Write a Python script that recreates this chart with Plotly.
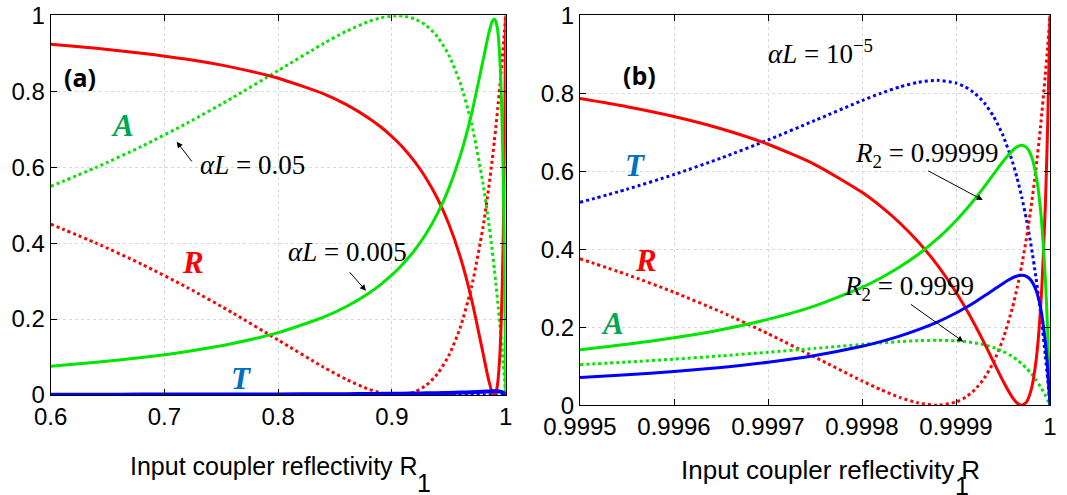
import plotly.graph_objects as go

# ---------------- data ----------------
# Panel (a): R2 ~ 0.9999, solid alphaL = 0.005, dotted alphaL = 0.05
xa = [0.60, 0.64, 0.68, 0.72, 0.76, 0.80, 0.84, 0.86, 0.88, 0.89, 0.90, 0.905, 0.91,
      0.92, 0.93, 0.94, 0.95, 0.96, 0.97, 0.98, 0.985, 0.988, 0.99, 0.9915, 0.993,
      0.995, 0.997, 0.998, 0.999, 0.9995, 1.0]
a_R_solid = [0.9236, 0.9131, 0.9002, 0.8840, 0.8629, 0.8342, 0.7929, 0.7646, 0.7285, 0.7064,
             0.6807, 0.6662, 0.6505, 0.6145, 0.5710, 0.5175, 0.4502, 0.3640, 0.2520, 0.1112,
             0.0395, 0.0079, 0.0000, 0.0070, 0.0323, 0.1133, 0.2932, 0.4475, 0.6721, 0.8201, 1.0]
a_A_solid = [0.0757, 0.0860, 0.0988, 0.1148, 0.1358, 0.1642, 0.2051, 0.2330, 0.2688, 0.2907,
             0.3162, 0.3305, 0.3461, 0.3817, 0.4247, 0.4778, 0.5443, 0.6297, 0.7406, 0.8800,
             0.9510, 0.9823, 0.9901, 0.9831, 0.9582, 0.8779, 0.6998, 0.5470, 0.3246, 0.1781, 0.0]
a_T_solid = [0.0008, 0.0009, 0.0010, 0.0012, 0.0014, 0.0016, 0.0021, 0.0023, 0.0027, 0.0029,
             0.0032, 0.0033, 0.0035, 0.0038, 0.0043, 0.0048, 0.0054, 0.0063, 0.0074, 0.0088,
             0.0095, 0.0098, 0.0099, 0.0098, 0.0096, 0.0088, 0.0070, 0.0055, 0.0033, 0.0018, 0.0]
a_R_dot = [0.4501, 0.3999, 0.3445, 0.2832, 0.2162, 0.1446, 0.0731, 0.0408, 0.0148, 0.0058,
           0.0007, 0.0000, 0.0009, 0.0083, 0.0254, 0.0557, 0.1039, 0.1769, 0.2845, 0.4410,
           0.5441, 0.6158, 0.6683, 0.7103, 0.7549, 0.8183, 0.8868, 0.9231, 0.9608, 0.9802, 1.0]
a_A_dot = [0.5494, 0.5995, 0.6549, 0.7161, 0.7831, 0.8545, 0.9260, 0.9582, 0.9842, 0.9933,
           0.9983, 0.9990, 0.9981, 0.9907, 0.9736, 0.9434, 0.8952, 0.8223, 0.7148, 0.5584,
           0.4554, 0.3838, 0.3314, 0.2894, 0.2449, 0.1815, 0.1131, 0.0768, 0.0392, 0.0198, 0.0]
a_T_dot = [0.0006, 0.0006, 0.0007, 0.0007, 0.0008, 0.0009, 0.0009, 0.0010, 0.0010, 0.0010,
           0.0010, 0.0010, 0.0010, 0.0010, 0.0010, 0.0009, 0.0009, 0.0008, 0.0007, 0.0006,
           0.0005, 0.0004, 0.0003, 0.0003, 0.0002, 0.0002, 0.0001, 0.0001, 0.0000, 0.0000, 0.0]

# Panel (b): alphaL = 1e-5, solid R2 = 0.99999, dotted R2 = 0.9999
xb = [0.99950, 0.99955, 0.99960, 0.99965, 0.99970, 0.99975, 0.99980, 0.99982, 0.99984,
      0.99986, 0.99988, 0.99990, 0.99991, 0.99992, 0.99993, 0.99994, 0.99995, 0.99996,
      0.999965, 0.99997, 0.999975, 0.99998, 0.999985, 0.99999, 0.999995, 0.9999975, 1.0]
b_R_solid = [0.7864, 0.7656, 0.7404, 0.7091, 0.6694, 0.6173, 0.5463, 0.5102, 0.4681, 0.4187,
             0.3600, 0.2899, 0.2500, 0.2066, 0.1600, 0.1111, 0.0625, 0.0204, 0.0059, 0.0000,
             0.0083, 0.0400, 0.1111, 0.2500, 0.5102, 0.7160, 1.0]
b_T_solid = [0.0712, 0.0781, 0.0865, 0.0970, 0.1102, 0.1276, 0.1512, 0.1633, 0.1773, 0.1938,
             0.2133, 0.2367, 0.2500, 0.2645, 0.2800, 0.2963, 0.3125, 0.3265, 0.3314, 0.3333,
             0.3306, 0.3200, 0.2963, 0.2500, 0.1633, 0.0947, 0.0]
b_A_solid = [0.1424, 0.1563, 0.1731, 0.1939, 0.2204, 0.2551, 0.3025, 0.3265, 0.3546, 0.3875,
             0.4267, 0.4734, 0.5000, 0.5289, 0.5600, 0.5926, 0.6250, 0.6531, 0.6627, 0.6667,
             0.6612, 0.6400, 0.5926, 0.5000, 0.3265, 0.1893, 0.0]
b_R_dot = [0.3757, 0.3352, 0.2899, 0.2395, 0.1837, 0.1234, 0.0625, 0.0400, 0.0204, 0.0059,
           0.0000, 0.0083, 0.0204, 0.0400, 0.0693, 0.1111, 0.1696, 0.2500, 0.3007, 0.3600,
           0.4293, 0.5102, 0.6049, 0.7160, 0.8464, 0.9200, 1.0]
b_T_dot = [0.5203, 0.5540, 0.5917, 0.6338, 0.6803, 0.7305, 0.7813, 0.8000, 0.8163, 0.8284,
           0.8333, 0.8264, 0.8163, 0.8000, 0.7756, 0.7407, 0.6920, 0.6250, 0.5827, 0.5333,
           0.4756, 0.4082, 0.3292, 0.2367, 0.1280, 0.0666, 0.0]
b_A_dot = [0.1041, 0.1108, 0.1183, 0.1268, 0.1361, 0.1461, 0.1563, 0.1600, 0.1633, 0.1657,
           0.1667, 0.1653, 0.1633, 0.1600, 0.1551, 0.1481, 0.1384, 0.1250, 0.1165, 0.1067,
           0.0951, 0.0816, 0.0658, 0.0473, 0.0256, 0.0133, 0.0]

a_xticks = [0.6, 0.7, 0.8, 0.9, 1.0]
a_xticktext = ["0.6", "0.7", "0.8", "0.9", "1"]
b_xticks = [0.9995, 0.9996, 0.9997, 0.9998, 0.9999, 1.0]
b_xticktext = ["0.9995", "0.9996", "0.9997", "0.9998", "0.9999", "1"]
yticks = [0, 0.2, 0.4, 0.6, 0.8, 1.0]
yticktext = ["0", "0.2", "0.4", "0.6", "0.8", "1"]

# ---------------- styling ----------------
W, H = 1067, 495
RED, GREEN, BLUE = "#ff0000", "#00e600", "#0000ff"
SANS = "Liberation Sans, Arial, sans-serif"
TICKFONT = dict(family=SANS, size=24, color="black")
SERIF = "Liberation Serif, Times New Roman, serif"

fig = go.Figure()

def add(x, y, color, dash, xa_, ya_, width=3):
    fig.add_trace(go.Scatter(x=x, y=y, mode="lines", xaxis=xa_, yaxis=ya_,
                             line=dict(color=color, width=width, dash=dash,
                                       shape="spline", smoothing=0.6),
                             showlegend=False, hoverinfo="skip"))

# panel (a)
add(xa, a_T_dot, BLUE, "dot", "x", "y")
add(xa, a_R_dot, RED, "dot", "x", "y")
add(xa, a_A_dot, GREEN, "dot", "x", "y")
add(xa, a_R_solid, RED, "solid", "x", "y")
add(xa, a_A_solid, GREEN, "solid", "x", "y")
add(xa, a_T_solid, BLUE, "solid", "x", "y", width=4)
# panel (b)
add(xb, b_T_dot, BLUE, "dot", "x2", "y2")
add(xb, b_R_dot, RED, "dot", "x2", "y2")
add(xb, b_A_dot, GREEN, "dot", "x2", "y2")
add(xb, b_R_solid, RED, "solid", "x2", "y2")
add(xb, b_A_solid, GREEN, "solid", "x2", "y2")
add(xb, b_T_solid, BLUE, "solid", "x2", "y2")

def px(x, y):
    return x / W, 1 - y / H

axis_common = dict(showline=True, linecolor="black", linewidth=1, mirror="allticks",
                   ticks="inside", ticklen=6, tickcolor="black", tickwidth=1,
                   showgrid=True, gridcolor="#d9d9d9", griddash="dot", gridwidth=1,
                   zeroline=False, tickfont=TICKFONT, automargin=False)

fig.update_layout(
    width=W, height=H, margin=dict(l=0, r=0, t=0, b=0, autoexpand=False),
    paper_bgcolor="white", plot_bgcolor="white",
    xaxis=dict(domain=[50.7 / W, 505.7 / W], range=[0.6, 1.0], anchor="y",
               tickvals=a_xticks, ticktext=a_xticktext, **axis_common),
    yaxis=dict(domain=[1 - 395 / H, 1 - 15.3 / H], range=[0, 1], anchor="x",
               tickvals=yticks, ticktext=yticktext, **axis_common),
    xaxis2=dict(domain=[580 / W, 1050 / W], range=[0.9995, 1.0], anchor="y2",
                tickvals=b_xticks, ticktext=b_xticktext, **axis_common),
    yaxis2=dict(domain=[1 - 405.3 / H, 1 - 15.3 / H], range=[0, 1], anchor="x2",
                tickvals=yticks, ticktext=yticktext, **axis_common),
)

ann = []

def text(x, y, s, size, color="black", family=SERIF, xanchor="center"):
    X, Y = px(x, y)
    ann.append(dict(x=X, y=Y, xref="paper", yref="paper", text=s, showarrow=False,
                    xanchor=xanchor, yanchor="middle",
                    font=dict(size=size, color=color, family=family)))

def arrow(hx, hy, tx, ty):
    X, Y = px(hx, hy)
    ann.append(dict(x=X, y=Y, xref="paper", yref="paper", text="", showarrow=True,
                    ax=tx - hx, ay=ty - hy, arrowhead=2, arrowsize=1.2, arrowwidth=1,
                    arrowcolor="black"))

SANSB = "Open Sans, Noto Sans, sans-serif"
# panel (a)
text(80, 77, "<b>(a)</b>", 25, family=SANSB)
text(122, 126, "<b><i>A</i></b>", 31, color="#00a651")
text(193, 262, "<b><i>R</i></b>", 31, color="#ff0000")
text(241, 378, "<b><i>T</i></b>", 31, color="#0070c0")
text(252, 165, "<i>αL</i> = 0.05", 27)
arrow(176.7, 141.7, 193, 163)
text(347, 252, "<i>αL</i> = 0.005", 27)
arrow(366, 290.7, 348.3, 270.7)
# panel (b)
text(639, 75, "<b>(b)</b>", 25, family=SANSB)
text(820, 52, "<i>αL</i> = 10<sup>−5</sup>", 27)
text(635, 166, "<b><i>T</i></b>", 31, color="#0070c0")
text(646, 260, "<b><i>R</i></b>", 31, color="#ff0000")
text(612, 323, "<b><i>A</i></b>", 31, color="#00a651")
text(926, 155, "<i>R</i><sub>2</sub> = 0.99999", 27)
arrow(982.7, 200, 926.7, 170)
text(909, 288, "<i>R</i><sub>2</sub> = 0.9999", 27)
arrow(963.3, 341.7, 909.3, 303.3)
# axis titles
text(128, 466, "Input coupler reflectivity R", 25, family=SANS, xanchor="left")
text(424, 483, "1", 25, family=SANS)
text(679, 470, "Input coupler reflectivity R", 26, family=SANS, xanchor="left")
text(962, 486, "1", 25, family=SANS)

fig.update_layout(annotations=ann)
fig.write_html("out.html", config={"displayModeBar": False},
               post_script="document.body.style.margin='0px';document.body.style.overflow='hidden';")
